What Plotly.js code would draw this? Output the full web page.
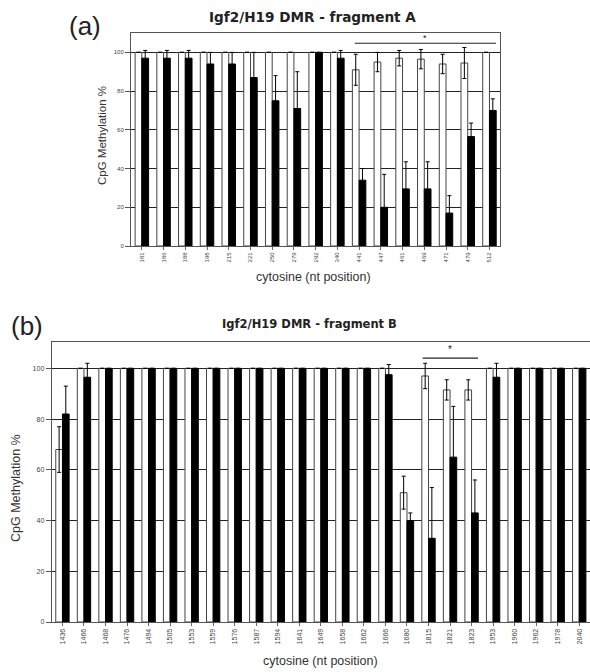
<!DOCTYPE html>
<html>
<head>
<meta charset="utf-8">
<script src="https://cdn.plot.ly/plotly-3.0.1.min.js"></script>
<style>html,body{margin:0;padding:0;background:#fff;}#chart{width:590px;height:672px;}</style>
</head>
<body>
<div id="chart"></div>
<script>
// ---- Panel (a): fragment A ----
const labelsA = ['181','186','188','198','215','221','250','279','292','340','441','447','461','469','471','479','512'];
const whiteA    = [100,100,100,100,100,100,100,100,100,100,91,95,97,96.5,94,94.5,100];
const whiteErrA = [0,0,0,0,0,0,0,0,0,0,8,5,4,5,5,8,0];
const blackA    = [97,97,97,94,94,87,75,71,100,97,34,20,29.5,29.5,17,56.5,70];
const blackErrA = [4,4,4,6,6,13,13,19,0,4,6,17,14,14,9,7,6];

// ---- Panel (b): fragment B ----
const labelsB = ['1436','1466','1468','1476','1494','1505','1553','1559','1576','1587','1594','1641','1649','1658','1662','1666','1680','1815','1821','1823','1953','1960','1962','1978','2040'];
const whiteB    = [68,100,100,100,100,100,100,100,100,100,100,100,100,100,100,100,51,97,91.5,91.5,100,100,100,100,100];
const whiteErrB = [9,0,0,0,0,0,0,0,0,0,0,0,0,0,0,0,6.5,5,4,4,0,0,0,0,0];
const blackB    = [82,96.5,100,100,100,100,100,100,100,100,100,100,100,100,100,97.5,40,33,65,43,96.5,100,100,100,100];
const blackErrB = [11,5.5,0,0,0,0,0,0,0,0,0,0,0,0,0,4,3,20,20,13,5.5,0,0,0,0];

const yTicks = [0,20,40,60,80,100];
const sigA = {first: 10, last: 16, y: 104.7};
const sigB = {first: 17, last: 19, y: 104};

const txt = '#333';
const fontFam = 'Liberation Sans, Arial, sans-serif';
const titleFam = 'DejaVu Sans, Liberation Sans, sans-serif';

function barTrace(x, y, err, isWhite, xa, ya) {
  return {
    type: 'bar', x: x, y: y, xaxis: xa, yaxis: ya,
    marker: {color: isWhite ? '#ffffff' : '#000000',
             line: {color: isWhite ? '#444' : '#000', width: 1}},
    error_y: {type: 'data', array: err, visible: true, color: '#000', thickness: 1, width: 2},
    hoverinfo: 'skip'
  };
}

const data = [
  barTrace(labelsA, whiteA, whiteErrA, true, 'x', 'y'),
  barTrace(labelsA, blackA, blackErrA, false, 'x', 'y'),
  barTrace(labelsB, whiteB, whiteErrB, true, 'x2', 'y2'),
  barTrace(labelsB, blackB, blackErrB, false, 'x2', 'y2')
];

function xax(domain, anchor, size) {
  return {domain: domain, anchor: anchor, type: 'category', tickangle: -90,
    tickfont: {size: size, color: '#444', family: fontFam},
    ticks: 'outside', ticklen: 3, tickcolor: '#666',
    showline: true, mirror: true, linecolor: '#555', linewidth: 1,
    showgrid: false, automargin: false, fixedrange: true};
}
function yax(domain, anchor, range, size, tl) {
  return {domain: domain, anchor: anchor, range: range, tickvals: yTicks,
    tickfont: {size: size, color: '#444', family: fontFam},
    ticks: 'outside', ticklen: tl, tickcolor: '#555',
    showgrid: true, gridcolor: '#222', gridwidth: 1, zeroline: false,
    showline: true, mirror: true, linecolor: '#555', linewidth: 1,
    automargin: false, fixedrange: true};
}

function ann(x, y, text, size, opts) {
  return Object.assign({xref: 'paper', yref: 'paper', x: x, y: y, text: text,
    showarrow: false, xanchor: 'center', yanchor: 'middle',
    font: {size: size, color: txt, family: fontFam}}, opts || {});
}

const layout = {
  width: 590, height: 672,
  margin: {l: 0, r: 0, t: 0, b: 0},
  paper_bgcolor: '#fff', plot_bgcolor: '#fff',
  showlegend: false, barmode: 'group', bargap: 0.38, bargroupgap: 0,
  xaxis: xax([0.222, 0.848], 'y', 6),
  yaxis: yax([0.6339, 0.9509], 'x', [0, 110], 6, 5),
  xaxis2: xax([0.0876, 1.0], 'y2', 7),
  yaxis2: yax([0.0744, 0.4911], 'x2', [0, 110.4], 7, 5),
  shapes: [
    {type: 'line', xref: 'x', yref: 'y', x0: sigA.first - 0.2, x1: sigA.last + 0.3, y0: sigA.y, y1: sigA.y, line: {color: '#222', width: 1.2}},
    {type: 'line', xref: 'x2', yref: 'y2', x0: sigB.first - 0.27, x1: sigB.last + 0.3, y0: sigB.y, y1: sigB.y, line: {color: '#222', width: 1.2}}
  ],
  annotations: [
    ann(0.529, 0.9747, '<b>Igf2/H19 DMR - fragment A</b>', 13.6, {font: {size: 13.6, color: '#222', family: titleFam}}),
    ann(0.525, 0.5179, '<b>Igf2/H19 DMR - fragment B</b>', 11.5, {font: {size: 11.5, color: '#222', family: titleFam}}),
    ann(0.144, 0.961, '(a)', 26, {font: {size: 26, color: '#222', family: fontFam}}),
    ann(0.0458, 0.515, '(b)', 26, {font: {size: 26, color: '#222', family: fontFam}}),
    ann(0.1729, 0.7976, 'CpG Methylation %', 11.5, {textangle: -90}),
    ann(0.0271, 0.2738, 'CpG Methylation %', 12.5, {textangle: -90}),
    ann(0.532, 0.5885, 'cytosine (nt position)', 12.5),
    ann(0.544, 0.0165, 'cytosine (nt position)', 12.5),
    {xref: 'x', yref: 'y', x: (sigA.first - 0.2 + sigA.last + 0.3) / 2, y: sigA.y + 2.8, text: '*', showarrow: false, yanchor: 'middle', font: {size: 9, color: '#222', family: fontFam}},
    {xref: 'x2', yref: 'y2', x: (sigB.first - 0.27 + sigB.last + 0.3) / 2, y: sigB.y + 3.5, text: '*', showarrow: false, yanchor: 'middle', font: {size: 10, color: '#222', family: fontFam}}
  ]
};

Plotly.newPlot('chart', data, layout, {staticPlot: true, displayModeBar: false});
</script>
</body>
</html>
